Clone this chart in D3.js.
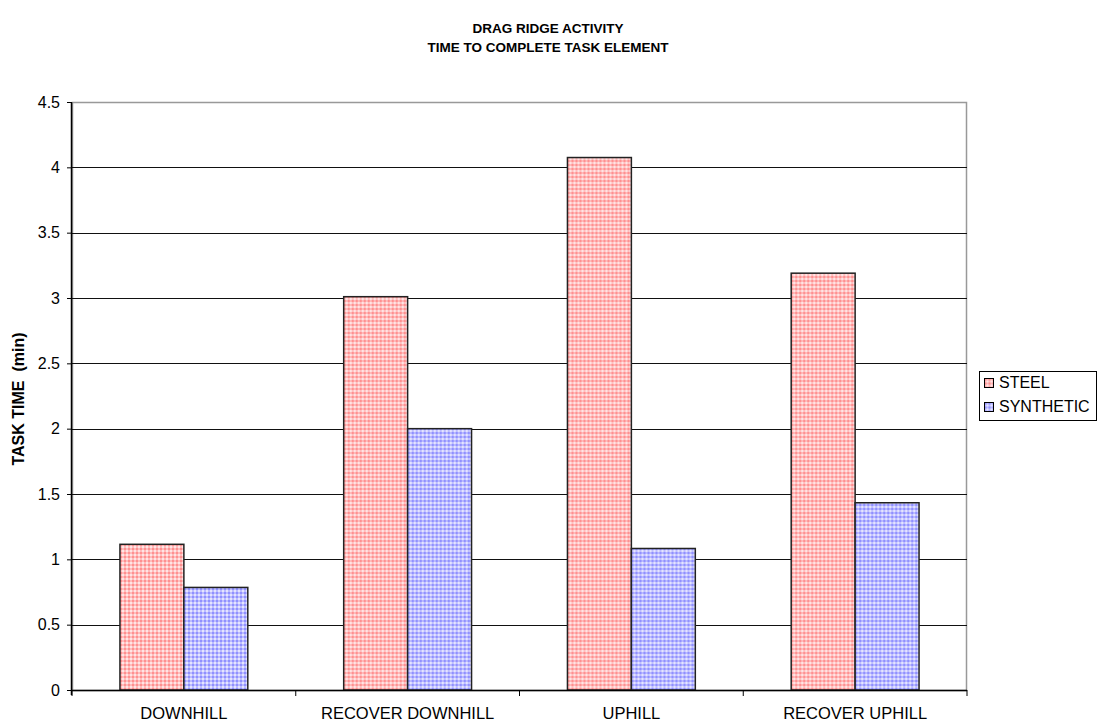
<!DOCTYPE html>
<html><head><meta charset="utf-8">
<script src="https://cdn.jsdelivr.net/npm/d3@7"></script>
<style>body{margin:0;background:#fff;} svg{display:block;font-family:"Liberation Sans",Arial,sans-serif;}</style>
</head><body>
<svg id="c" width="1097" height="725"></svg>
<script>
const categories = ["DOWNHILL", "RECOVER DOWNHILL", "UPHILL", "RECOVER UPHILL"];
const seriesNames = ["STEEL", "SYNTHETIC"];
const steel = [1.115, 3.01, 4.075, 3.19];
const synthetic = [0.785, 2.0, 1.083, 1.433];
const yTicks = [0, 0.5, 1, 1.5, 2, 2.5, 3, 3.5, 4, 4.5];
const titleLines = ["DRAG RIDGE ACTIVITY", "TIME TO COMPLETE TASK ELEMENT"];
const yTitle = "TASK TIME  (min)";

const svg = d3.select("#c");
const L = 72, R = 967, T = 102, B = 690;
const FONT = "Liberation Sans, Arial, sans-serif";

const defs = svg.append("defs");
function pat(id, base, dot) {
  const p = defs.append("pattern").attr("id", id).attr("patternUnits", "userSpaceOnUse")
    .attr("width", 4).attr("height", 4);
  p.append("rect").attr("width", 4).attr("height", 4).attr("fill", base);
  p.append("rect").attr("x", 0).attr("y", 0).attr("width", 2).attr("height", 2).attr("fill", dot);
  p.append("rect").attr("x", 2).attr("y", 2).attr("width", 2).attr("height", 2).attr("fill", "#fff").attr("opacity", 0.6);
}
pat("pRed", "#ffbcbc", "#ff9090");
pat("pBlue", "#bcbcff", "#9090ff");
const fills = ["url(#pRed)", "url(#pBlue)"];

const x0 = d3.scaleBand().domain(categories).range([L, R]).paddingInner(0).paddingOuter(0);
// Excel gap width 150% -> gap = 1.5 * bar width
const x1 = d3.scaleBand().domain(seriesNames).range([0, x0.bandwidth()]).paddingInner(0).paddingOuter(0.75);
const y = d3.scaleLinear().domain([0, 4.5]).range([B, T]);

// plot area border
svg.append("rect").attr("x", L + 0.5).attr("y", T + 0.5).attr("width", R - L - 1).attr("height", B - T)
  .attr("fill", "#fff").attr("stroke", "#999").attr("stroke-width", 1.5);

// gridlines
svg.append("g").selectAll("line").data(yTicks.filter(d => d > 0 && d < 4.5)).join("line")
  .attr("x1", L).attr("x2", R).attr("y1", d => Math.round(y(d)) + 0.5).attr("y2", d => Math.round(y(d)) + 0.5)
  .attr("stroke", "#111").attr("stroke-width", 1);

// bars
const data = categories.map((c, i) => ({ c, vals: [steel[i], synthetic[i]] }));
const g = svg.append("g").selectAll("g").data(data).join("g")
  .attr("transform", d => `translate(${x0(d.c)},0)`);
g.selectAll("rect").data(d => d.vals.map((v, k) => ({ v, k }))).join("rect")
  .attr("x", d => x1(seriesNames[d.k]))
  .attr("width", x1.bandwidth())
  .attr("y", d => y(d.v))
  .attr("height", d => B - y(d.v))
  .attr("fill", d => fills[d.k])
  .attr("stroke", "#222").attr("stroke-width", 1.5);

// y axis
const ya = d3.axisLeft(y).tickValues(yTicks).tickSize(5).tickFormat(d3.format("~g"));
const yg = svg.append("g").attr("transform", `translate(${L},0)`).call(ya);
yg.select(".domain").attr("stroke", "#000").attr("stroke-width", 1.5).attr("d", `M-0.5,${T}V${B + 5}`);
yg.selectAll(".tick line").attr("stroke", "#000");
yg.selectAll("text").attr("font-size", 16).attr("fill", "#000").attr("x", -12)
  .attr("font-family", FONT);

// x axis
const xa = d3.axisBottom(x0).tickSize(0).tickPadding(17);
const xg = svg.append("g").attr("transform", `translate(0,${B})`).call(xa);
xg.select(".domain").attr("stroke", "#000").attr("stroke-width", 1.5).attr("d", `M${L},0.5H${R}`);
xg.selectAll("text").attr("font-size", 16.5).attr("fill", "#000").attr("dy", "0.71em")
  .attr("font-family", FONT);
xg.append("g").selectAll("line").data(categories.slice(1).map(c => x0(c)).concat([R, L])).join("line")
  .attr("x1", d => d).attr("x2", d => d).attr("y1", 0).attr("y2", 6).attr("stroke", "#000");

// title
svg.append("g").selectAll("text").data(titleLines).join("text")
  .attr("x", 548).attr("y", (d, i) => 33 + i * 19).attr("text-anchor", "middle")
  .attr("font-size", 13.5).attr("font-weight", "bold").text(d => d);

// y title
svg.append("text").attr("transform", `translate(24,399) rotate(-90)`).attr("text-anchor", "middle")
  .attr("font-size", 16).attr("font-weight", "bold").style("white-space", "pre").text(yTitle);

// legend
const lg = svg.append("g");
lg.append("rect").attr("x", 979.5).attr("y", 371.5).attr("width", 117).attr("height", 49)
  .attr("fill", "#fff").attr("stroke", "#000");
const li = lg.selectAll("g").data(seriesNames).join("g")
  .attr("transform", (d, i) => `translate(984.5,${378.5 + i * 24})`);
li.append("rect").attr("width", 9).attr("height", 9).attr("fill", (d, i) => fills[i]).attr("stroke", "#000");
li.append("text").attr("x", 14.5).attr("y", 9.5).attr("font-size", 16).text(d => d);
</script>
</body></html>
